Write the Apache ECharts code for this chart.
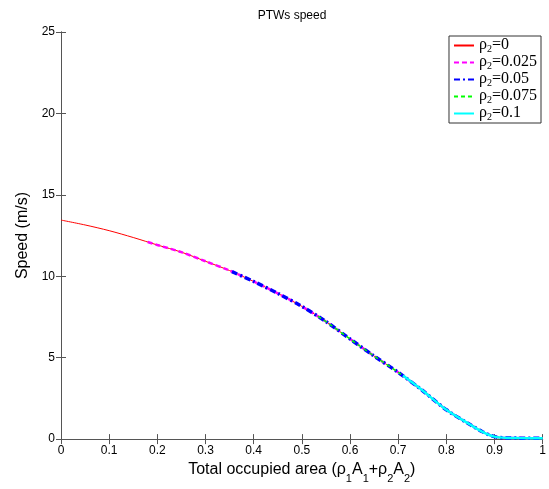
<!DOCTYPE html>
<html><head><meta charset="utf-8">
<script src="https://cdn.jsdelivr.net/npm/echarts@6/dist/echarts.min.js"></script>
<style>html,body{margin:0;padding:0;background:#fff}#c{width:549px;height:489px}</style>
</head><body><div id="c"></div>
<script>
const xTicks = ['0','0.1','0.2','0.3','0.4','0.5','0.6','0.7','0.8','0.9','1'];
const yTicks = ['0','5','10','15','20','25'];
const seriesNames = ['0','0.025','0.05','0.075','0.1'];
// rho2 = 0
const x0 = [0,0.05,0.1,0.15,0.2,0.25,0.3,0.35,0.4,0.45,0.5,0.55,0.6,0.65,0.7,0.75,0.8,0.85,0.875,0.9,0.925,0.95,1];
const v0 = [13.45,13.15,12.8,12.38,11.92,11.48,10.92,10.35,9.68,8.95,8.15,7.22,6.15,5.1,4.1,3.0,1.8,0.88,0.45,0.15,0.07,0.06,0.05];
// rho2 = 0.025
const x1 = [0.18,0.2,0.25,0.3,0.35,0.4,0.45,0.5,0.55,0.6,0.65,0.7,0.75,0.8,0.85,0.875,0.9,0.925,0.95,1];
const v1 = [12.1,11.92,11.48,10.92,10.35,9.68,8.95,8.15,7.22,6.15,5.1,4.1,3.0,1.8,0.88,0.45,0.15,0.07,0.06,0.05];
// rho2 = 0.05
const x2 = [0.355,0.4,0.45,0.5,0.55,0.6,0.65,0.7,0.75,0.8,0.85,0.875,0.9,0.925,0.95,1];
const v2 = [10.28,9.68,8.95,8.15,7.22,6.15,5.1,4.1,3.0,1.8,0.88,0.45,0.15,0.07,0.06,0.05];
// rho2 = 0.075
const x3 = [0.533,0.55,0.6,0.65,0.7,0.75,0.8,0.85,0.875,0.9,0.925,0.95,1];
const v3 = [7.55,7.22,6.15,5.1,4.1,3.0,1.8,0.88,0.45,0.15,0.07,0.06,0.05];
// rho2 = 0.1
const x4 = [0.71,0.75,0.8,0.85,0.875,0.9,0.925,0.95,1];
const v4 = [3.9,3.0,1.8,0.88,0.45,0.15,0.07,0.06,0.05];

const xs = [x0,x1,x2,x3,x4], vs = [v0,v1,v2,v3,v4];
const styles = [
  {color:'#ff0000', width:1, type:'solid'},
  {color:'#ff00ff', width:2.5, type:[5,3]},
  {color:'#0000ff', width:3.5, type:[6,3,2,3]},
  {color:'#00ff00', width:1.5, type:[4,3]},
  {color:'#00ffff', width:2.5, type:'solid'}
];
const axisCol = '#555';
const chart = echarts.init(document.getElementById('c'));
const series = seriesNames.map((n,i)=>({
  name: n, type:'line', symbol:'none', showSymbol:false, smooth:0.3,
  data: xs[i].map((x,j)=>[x, vs[i][j]]),
  lineStyle: styles[i], itemStyle:{color:styles[i].color}, z: 2+i
}));
const sub = {fontSize:11, verticalAlign:'bottom', lineHeight:22, fontFamily:'Liberation Sans', color:'#000'};
chart.setOption({
  animation:false,
  title:{text:'PTWs speed', left:287, top:5, textAlign:'center', textStyle:{fontSize:12, fontWeight:'normal', fontFamily:'Liberation Sans', color:'#000'}},
  grid:{left:61, right:5, top:32, bottom:47, containLabel:false},
  legend:{
    orient:'vertical', right:8, top:36, itemWidth:20, itemHeight:10, itemGap:0,
    borderColor:'#333', borderWidth:1, backgroundColor:'#fff', padding:[1,4,1,4],
    itemStyle:{opacity:0},
    data: seriesNames,
    formatter: n => '{a|ρ}{s|2}{a|=' + n + '}',
    textStyle:{rich:{
      a:{fontSize:16, fontFamily:'Liberation Serif', color:'#000', verticalAlign:'top', lineHeight:15},
      s:{fontSize:10, fontFamily:'Liberation Serif', color:'#000', verticalAlign:'bottom', lineHeight:17}
    }}
  },
  xAxis:[{
    type:'value', min:0, max:1, interval:0.1, position:'bottom',
    name:'{n|Total occupied area (ρ}{s|1}{n|A}{s|1}{n|+ρ}{s|2}{n|A}{s|2}{n|)}',
    nameLocation:'middle', nameGap:22,
    nameTextStyle:{rich:{n:{fontSize:16, fontFamily:'Liberation Sans', color:'#000', verticalAlign:'top', lineHeight:18}, s:sub}},
    axisLine:{show:true, lineStyle:{color:axisCol}},
    axisTick:{inside:true, length:5, lineStyle:{color:axisCol}},
    axisLabel:{color:'#000', fontSize:12, fontFamily:'Liberation Sans', margin:6, formatter:(v)=>xTicks[Math.round(v*10)]},
    splitLine:{show:false}
  },{
    type:'value', min:0, max:1, interval:0.1, position:'top',
    axisLine:{show:true, lineStyle:{color:axisCol}},
    axisTick:{inside:true, length:5, lineStyle:{color:axisCol}},
    axisLabel:{show:false}, splitLine:{show:false}
  }],
  yAxis:[{
    type:'value', min:0, max:25, interval:5, position:'left',
    name:'Speed (m/s)', nameLocation:'middle', nameGap:30,
    nameTextStyle:{fontSize:16, fontFamily:'Liberation Sans', color:'#000'},
    axisLine:{show:true, lineStyle:{color:axisCol}},
    axisTick:{inside:true, length:5, lineStyle:{color:axisCol}},
    axisLabel:{color:'#000', fontSize:12, fontFamily:'Liberation Sans', margin:6, formatter:(v)=>yTicks[Math.round(v/5)]},
    splitLine:{show:false}
  },{
    type:'value', min:0, max:25, interval:5, position:'right',
    axisLine:{show:true, lineStyle:{color:axisCol}},
    axisTick:{inside:true, length:5, lineStyle:{color:axisCol}},
    axisLabel:{show:false}, splitLine:{show:false}
  }],
  series: series
});
</script></body></html>
